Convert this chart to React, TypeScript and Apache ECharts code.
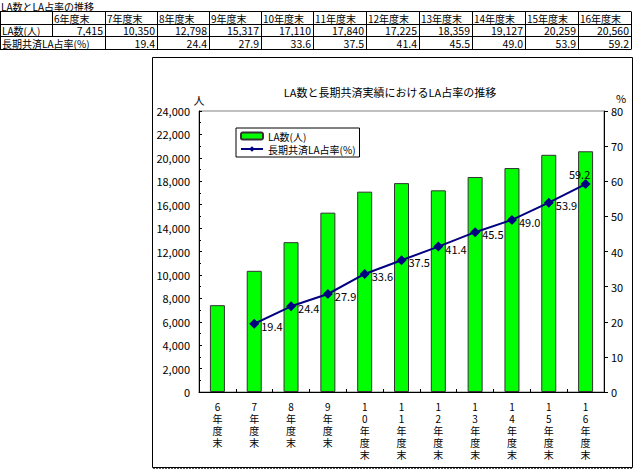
import React, { useEffect, useRef } from "react";
import * as echarts from "echarts";

const categories = ["6年度末", "7年度末", "8年度末", "9年度末", "10年度末", "11年度末", "12年度末", "13年度末", "14年度末", "15年度末", "16年度末"];
const laCount = [7415, 10350, 12798, 15317, 17110, 17840, 17225, 18359, 19127, 20259, 20560];
const laShare: (number | null)[] = [null, 19.4, 24.4, 27.9, 33.6, 37.5, 41.4, 45.5, 49.0, 53.9, 59.2];
const countName = "LA数(人)";
const shareName = "長期共済LA占率(%)";
const tableTitle = "LA数とLA占率の推移";
const chartTitle = "LA数と長期共済実績におけるLA占率の推移";

const FONT = '"Noto Sans CJK JP", "Noto Sans", sans-serif';

export default function App() {
  const ref = useRef<HTMLDivElement>(null);
  useEffect(() => {
    if (!ref.current) return;
    const chart = echarts.init(ref.current, undefined, { renderer: "svg" });

    // table layout
    const colX = [0, 52, 105, 157, 209, 261, 313, 366, 419, 472, 525, 578, 631];
    const rowY = [11, 23.5, 36, 48.5];
    const g: any[] = [];
    const ln = (x1: number, y1: number, x2: number, y2: number, extra: any = {}) => ({
      type: "line",
      silent: true,
      shape: { x1, y1, x2, y2 },
      style: { stroke: "#000", lineWidth: 1, ...extra },
    });
    const txt = (text: string, x: number, y: number, align: string, size = 10, lh = 11) => ({
      type: "text",
      silent: true,
      x,
      y,
      style: {
        text,
        font: `${size}px ${FONT}`,
        lineHeight: lh,
        fill: "#000",
        align,
        textAlign: align,
        verticalAlign: "middle",
        textVerticalAlign: "middle",
      },
    });
    g.push(txt(tableTitle, 1, 6, "left", 10));
    rowY.forEach((y) => g.push(ln(0, Math.round(y) + 0.5, colX[colX.length - 1], Math.round(y) + 0.5)));
    colX.forEach((x, i) => {
      const bottom = i === 1 ? rowY[2] : rowY[3];
      g.push(ln(x + 0.5, Math.round(rowY[0]) + 0.5, x + 0.5, Math.round(bottom) + 0.5));
    });
    const rowMid = (r: number) => (rowY[r] + rowY[r + 1]) / 2 + 1;
    categories.forEach((c, i) => {
      g.push(txt(c, colX[i + 1] + 2, rowMid(0), "left"));
      g.push(txt(laCount[i].toLocaleString("en-US"), colX[i + 2] - 2, rowMid(1), "right", 10.5));
      const s = laShare[i];
      if (s != null) g.push(txt(s.toFixed(1), colX[i + 2] - 2, rowMid(2), "right", 10.5));
    });
    g.push(txt(countName, 2, rowMid(1), "left"));
    g.push(txt("長期共済LA占率(%)", 2, rowMid(2), "left"));

    // chart frame
    g.push({
      type: "rect",
      silent: true,
      shape: { x: 152.5, y: 57.5, width: 480, height: 410 },
      style: { fill: "none", stroke: "#000", lineWidth: 1 },
    });
    g.push(ln(153, 468.5, 633, 468.5, { stroke: "#555", lineDash: [2, 1] }));
    g.push(txt(chartTitle, 390, 92, "center", 11, 13));

    chart.setOption({
      animation: false,
      backgroundColor: "#fff",
      textStyle: { fontFamily: FONT },
      graphic: g,
      legend: {
        left: 236,
        top: 128,
        orient: "vertical",
        data: [countName, shareName],
        itemWidth: 22,
        itemHeight: 7,
        itemGap: 3,
        padding: [3, 4, 3, 4],
        borderColor: "#000",
        borderWidth: 1,
        textStyle: { fontSize: 10, color: "#000", fontFamily: FONT },
      },
      grid: {
        left: 199,
        top: 111,
        width: 405,
        height: 281,
        show: true,
        borderColor: "#808080",
        borderWidth: 1,
        backgroundColor: "#fff",
      },
      xAxis: {
        type: "category",
        data: categories,
        axisLine: { lineStyle: { color: "#000", width: 1 } },
        axisTick: { show: true, inside: true, length: 3, lineStyle: { color: "#000" } },
        axisLabel: {
          interval: 0,
          margin: 8,
          fontSize: 10,
          lineHeight: 12,
          color: "#000",
          fontFamily: FONT,
          formatter: (v: string) => v.split("").join("\n"),
        },
      },
      yAxis: [
        {
          type: "value",
          min: 0,
          max: 24000,
          interval: 2000,
          name: "人",
          nameLocation: "end",
          nameGap: 5,
          nameTextStyle: { fontSize: 11, color: "#000", fontFamily: FONT },
          axisLine: { show: true, lineStyle: { color: "#000", width: 1 } },
          axisTick: { show: true, inside: true, length: 3, lineStyle: { color: "#000" } },
          minorTick: { show: true, splitNumber: 2, length: 2, lineStyle: { color: "#000" } },
          splitLine: { show: false },
          axisLabel: {
            margin: 9,
            fontSize: 11,
            color: "#000",
            fontFamily: FONT,
            formatter: (v: number) => v.toLocaleString("en-US"),
          },
        },
        {
          type: "value",
          min: 0,
          max: 80,
          interval: 10,
          position: "right",
          name: "%",
          nameLocation: "end",
          nameGap: 8,
          nameTextStyle: { fontSize: 11, color: "#000", fontFamily: FONT, align: "left", padding: [0, 0, 0, 12] },
          axisLine: { show: true, lineStyle: { color: "#000", width: 1 } },
          axisTick: { show: true, inside: false, length: 4, lineStyle: { color: "#000" } },
          splitLine: { show: false },
          axisLabel: { margin: 7, fontSize: 11, color: "#000", fontFamily: FONT },
        },
      ],
      series: [
        {
          name: countName,
          type: "bar",
          data: laCount,
          barWidth: 15,
          itemStyle: { color: "#00FF00", borderColor: "#333", borderWidth: 1 },
        },
        {
          name: shareName,
          type: "line",
          yAxisIndex: 1,
          data: laShare.map((v, i) =>
            i === laShare.length - 1
              ? { value: v, label: { position: "top", offset: [-6, 2] } }
              : v
          ),
          symbol: "diamond",
          symbolSize: 10,
          color: "#000080",
          itemStyle: { color: "#000080" },
          lineStyle: { color: "#000080", width: 2 },
          label: {
            show: true,
            position: "right",
            distance: 2,
            offset: [0, 2],
            fontSize: 11,
            color: "#000",
            fontFamily: FONT,
            formatter: (p: any) => (p.value == null ? "" : Number(p.value).toFixed(1)),
          },
        },
      ],
    });
    return () => chart.dispose();
  }, []);
  return (
    <div
      ref={ref}
      style={{ position: "absolute", left: 0, top: 0, width: 640, height: 473 }}
    />
  );
}
